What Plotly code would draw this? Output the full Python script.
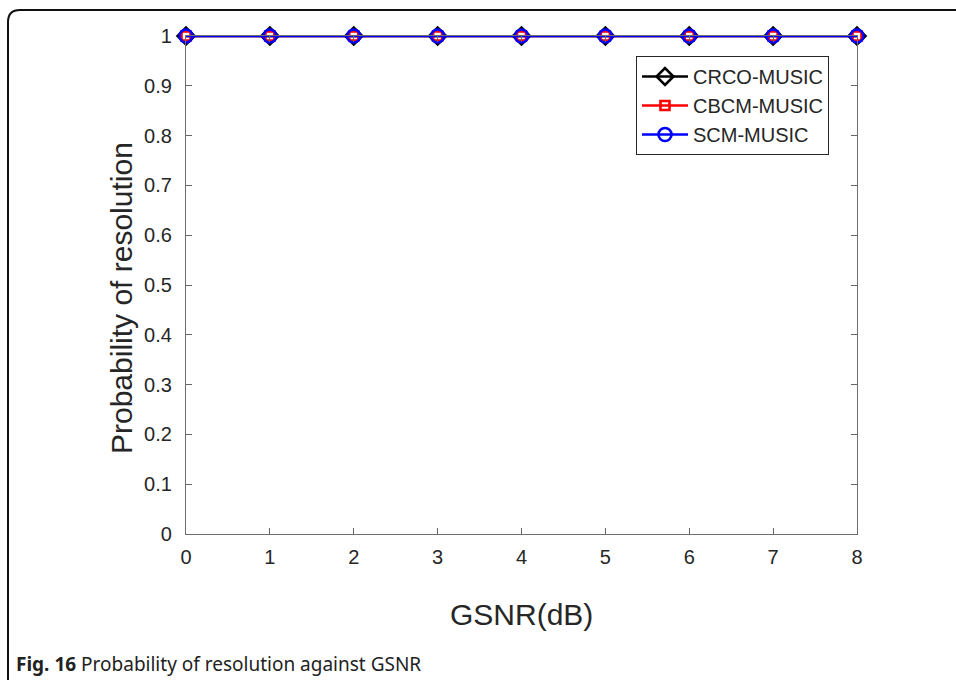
import plotly.graph_objects as go

# GSNR sweep and probability of resolution for each estimator
gsnr_db = [0, 1, 2, 3, 4, 5, 6, 7, 8]
crco_music = [1, 1, 1, 1, 1, 1, 1, 1, 1]
cbcm_music = [1, 1, 1, 1, 1, 1, 1, 1, 1]
scm_music = [1, 1, 1, 1, 1, 1, 1, 1, 1]

x_ticks = [0, 1, 2, 3, 4, 5, 6, 7, 8]
y_ticks = [0, 0.1, 0.2, 0.3, 0.4, 0.5, 0.6, 0.7, 0.8, 0.9, 1]
y_tick_text = ["0", "0.1", "0.2", "0.3", "0.4", "0.5", "0.6", "0.7", "0.8", "0.9", "1"]

W, H = 956, 680
L, R, T, B = 186, 857, 36, 534  # plot area in pixels

fig = go.Figure()

series = [
    ("CRCO-MUSIC", crco_music, "black", "diamond-open", 13),
    ("CBCM-MUSIC", cbcm_music, "red", "square-open", 9),
    ("SCM-MUSIC", scm_music, "blue", "circle-open", 13),
]
for name, ys, color, sym, size in series:
    fig.add_trace(go.Scatter(
        x=gsnr_db, y=ys, name=name, mode="lines+markers",
        line=dict(color=color, width=2.6),
        marker=dict(symbol=sym, size=size, color=color, line=dict(width=2.6, color=color)),
        cliponaxis=False,
    ))

FONT = "Liberation Sans, Arial, sans-serif"
axis_font = dict(family=FONT, size=20, color="#262626")
title_font = dict(family=FONT, size=30, color="#262626")

fig.update_xaxes(
    range=[0, 8], tickvals=x_ticks, ticks="inside", ticklen=6, tickwidth=1,
    tickcolor="#666666", linecolor="#6e6e6e", linewidth=1.3, mirror="ticks",
    showgrid=False, zeroline=False, tickfont=axis_font, ticklabelstandoff=5,
)
fig.update_yaxes(
    range=[0, 1], tickvals=y_ticks, ticktext=y_tick_text, ticks="inside", ticklen=6, tickwidth=1,
    tickcolor="#666666", linecolor="#6e6e6e", linewidth=1.3, mirror="ticks",
    showgrid=False, zeroline=False, tickfont=axis_font, ticklabelstandoff=9,
)


def px(xp):
    return (xp - L) / (R - L)


def py(yp):
    return (B - yp) / (B - T)


# Rounded frame along the left and top edges of the figure
frame = (f"M {px(8)},{py(700)} L {px(8)},{py(22)} "
         f"Q {px(8)},{py(10)} {px(20)},{py(10)} L {px(960)},{py(10)}")

fig.update_layout(
    width=W, height=H,
    margin=dict(l=L, r=W - R, t=T, b=H - B),
    paper_bgcolor="white", plot_bgcolor="white",
    legend=dict(
        x=px(636), y=py(56), xanchor="left", yanchor="top",
        bordercolor="#262626", borderwidth=1, bgcolor="white",
        font=dict(family=FONT, size=20, color="#262626"),
        itemwidth=46, tracegroupgap=0,
    ),
    shapes=[dict(type="path", xref="paper", yref="paper", path=frame,
                 line=dict(color="#111111", width=2))],
    annotations=[
        dict(xref="paper", yref="paper", x=px(521), y=py(614), xanchor="center", yanchor="middle",
             showarrow=False, text="GSNR(dB)", font=title_font),
        dict(xref="paper", yref="paper", x=px(121), y=py(298), xanchor="center", yanchor="middle",
             showarrow=False, text="Probability of resolution", textangle=-90, font=title_font),
        dict(xref="paper", yref="paper", x=px(14), y=py(664), xanchor="left", yanchor="middle",
             showarrow=False,
             text="<b>Fig. 16</b> Probability of resolution against GSNR",
             font=dict(family="Noto Sans, Open Sans, sans-serif", size=19, color="#222222")),
    ],
    showlegend=True,
)

fig.write_html("out.html")
